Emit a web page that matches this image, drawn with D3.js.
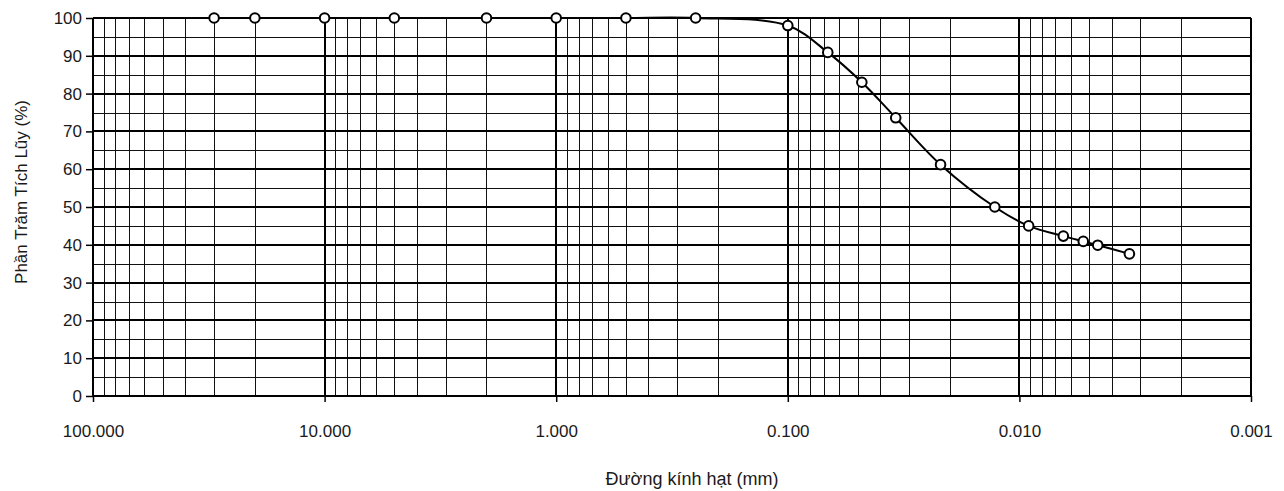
<!DOCTYPE html>
<html>
<head>
<meta charset="utf-8">
<script src="https://cdn.jsdelivr.net/npm/d3@7"></script>
<style>
  html, body { margin: 0; padding: 0; background: #fff; }
  svg { display: block; font-family: "Liberation Sans", Arial, sans-serif; }
</style>
</head>
<body>
<svg id="chart" width="1284" height="491"></svg>
<script>
// ---- data ----
const grainSize = [30, 20, 10, 5, 2, 1, 0.5, 0.25, 0.1, 0.0672, 0.0479, 0.0342, 0.0219, 0.01277, 0.00912, 0.00646, 0.0053, 0.00459, 0.00335];
const percentPassing = [100, 100, 100, 100, 100, 100, 100, 100, 98.0, 90.9, 83.0, 73.6, 61.2, 50.0, 45.0, 42.3, 40.9, 39.9, 37.6];
const xTickValues = [100, 10, 1, 0.1, 0.01, 0.001];
const xTickLabels = ["100.000", "10.000", "1.000", "0.100", "0.010", "0.001"];
const yTickValues = [0, 10, 20, 30, 40, 50, 60, 70, 80, 90, 100];
const xTitle = "Đường kính hạt (mm)";
const yTitle = "Phần Trăm Tích Lũy (%)";

// ---- layout ----
const pLeft = 93, pRight = 1251, pTop = 18, pBottom = 396;
const svg = d3.select("#chart");
const x = d3.scaleLog().domain([100, 0.001]).range([pLeft, pRight]);
const y = d3.scaleLinear().domain([0, 100]).range([pBottom, pTop]);

const snap = (v, w) => (w % 2 === 1 ? Math.round(v) + 0.5 : Math.round(v));

// grid: vertical minor
const vMinor = [];
for (let e = -3; e <= 1; e++) for (let k = 2; k <= 9; k++) vMinor.push(k * Math.pow(10, e));
const g = svg.append("g");
g.selectAll("line.vminor").data(vMinor).join("line")
  .attr("x1", d => snap(x(d), 1)).attr("x2", d => snap(x(d), 1))
  .attr("y1", pTop).attr("y2", pBottom)
  .attr("stroke", "#111").attr("stroke-width", 1).attr("shape-rendering", "crispEdges");
// grid: horizontal minor (every 5)
const hMinor = d3.range(5, 100, 10);
g.selectAll("line.hminor").data(hMinor).join("line")
  .attr("x1", pLeft).attr("x2", pRight)
  .attr("y1", d => snap(y(d), 1)).attr("y2", d => snap(y(d), 1))
  .attr("stroke", "#111").attr("stroke-width", 1).attr("shape-rendering", "crispEdges");
// grid: horizontal major
g.selectAll("line.hmajor").data(yTickValues).join("line")
  .attr("x1", pLeft).attr("x2", pRight)
  .attr("y1", d => snap(y(d), 2)).attr("y2", d => snap(y(d), 2))
  .attr("stroke", "#000").attr("stroke-width", 2).attr("shape-rendering", "crispEdges");
// grid: vertical major
g.selectAll("line.vmajor").data(xTickValues).join("line")
  .attr("x1", d => snap(x(d), 2)).attr("x2", d => snap(x(d), 2))
  .attr("y1", pTop).attr("y2", pBottom)
  .attr("stroke", "#000").attr("stroke-width", 2).attr("shape-rendering", "crispEdges");

// axes
const yAxis = d3.axisLeft(y).tickValues(yTickValues).tickSize(7).tickPadding(4).tickFormat(d3.format("d"));
const ya = svg.append("g").attr("transform", `translate(${pLeft},0)`).call(yAxis);
ya.select(".domain").remove();
ya.selectAll(".tick line").attr("stroke-width", 1.5);
ya.selectAll("text").attr("font-size", 17).attr("fill", "#1a1a1a")
  .attr("font-family", "'Liberation Sans', Arial, sans-serif");

const xAxis = d3.axisBottom(x).tickValues(xTickValues).tickSize(6)
  .tickFormat((d, i) => xTickLabels[i]);
const xa = svg.append("g").attr("transform", `translate(0,${pBottom})`).call(xAxis);
xa.select(".domain").remove();
xa.selectAll(".tick line").attr("stroke-width", 1.5);
xa.selectAll("text").attr("font-size", 17).attr("fill", "#1a1a1a")
  .attr("y", 35).attr("dy", "0.35em")
  .attr("font-family", "'Liberation Sans', Arial, sans-serif");

// curve
const pts = grainSize.map((d, i) => [x(d), y(percentPassing[i])]);
svg.append("path")
  .attr("d", d3.line().curve(d3.curveCatmullRom.alpha(0.5))(pts))
  .attr("fill", "none").attr("stroke", "#000").attr("stroke-width", 2);
svg.selectAll("circle.pt").data(pts).join("circle")
  .attr("cx", d => d[0]).attr("cy", d => d[1]).attr("r", 4.8)
  .attr("fill", "#fff").attr("stroke", "#000").attr("stroke-width", 2);

// titles
svg.append("text").attr("x", 692).attr("y", 485)
  .attr("text-anchor", "middle").attr("font-size", 18).attr("fill", "#1a1a1a")
  .text(xTitle);
svg.append("text").attr("transform", "translate(27,192) rotate(-90)")
  .attr("text-anchor", "middle").attr("font-size", 17).attr("fill", "#1a1a1a")
  .text(yTitle);
</script>
</body>
</html>
